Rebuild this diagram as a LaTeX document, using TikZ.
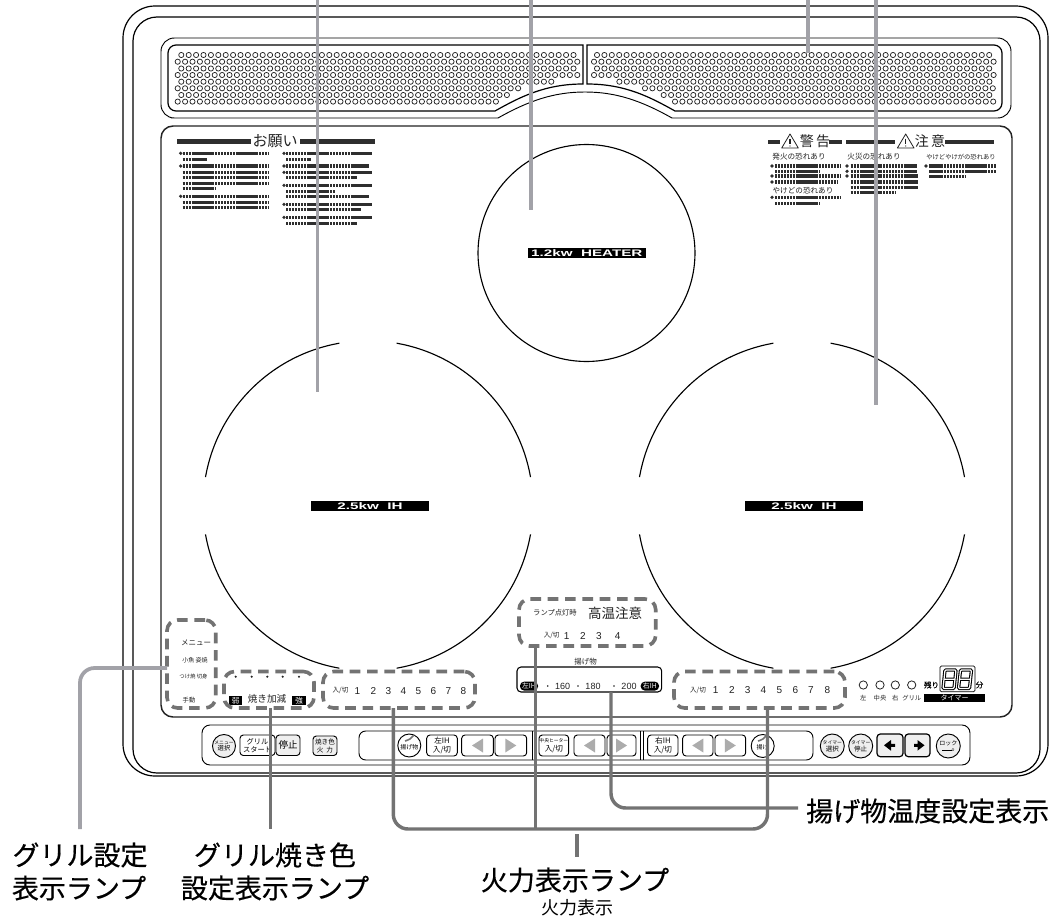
\documentclass[tikz,border=0pt]{standalone}
\usepackage{fontspec}
\setmainfont{Noto Sans CJK JP}
\newfontfamily\lat{Liberation Sans}
\newfontfamily\wide[FakeStretch=1.6]{Liberation Sans}
\newfontfamily\jpb[FakeBold=0.45]{Noto Sans CJK JP}
\usetikzlibrary{fit,calc}
\newcommand\fpx[1]{\fontsize{\the\dimexpr#1pt*3/4\relax}{\the\dimexpr#1pt*17/20\relax}\selectfont}
\definecolor{lead}{HTML}{A2A2A8}
\definecolor{leadd}{HTML}{737373}
\definecolor{ink}{HTML}{222222}
\definecolor{rowc}{HTML}{2E2E2E}
\definecolor{btnf}{HTML}{EFEFEF}
\tikzset{
  x=0.75pt,y=-0.75pt,
  outline/.style={draw=black,line width=0.9pt},
  thinl/.style={draw=black,line width=0.7pt},
  hole/.style={draw=ink,line width=0.55pt},
  dashbox/.style={draw=leadd,line width=2.7pt,dash pattern=on 8pt off 5pt,rounded corners=8pt,inner sep=0pt},
  leader/.style={draw=lead,line width=2.8pt},
  leaderd/.style={draw=leadd,line width=2.6pt},
  txt/.style={inner sep=0pt,align=center,text=ink},
  btnbox/.style={draw=black,line width=0.7pt,rounded corners=2.5pt,inner sep=0pt,fill=white},
  btnfill/.style={btnbox,fill=btnf},
  round/.style={draw=black,line width=0.7pt},
  txtrow/.style={draw=rowc,line width=2.4pt,dash pattern=on 1.8pt off 0.4pt},
  bar/.style={fill=rowc,draw=none},
  tag/.style={fill=black,inner sep=0pt},
  big/.style={inner sep=0pt,align=center,text=black,font=\jpb\fpx{27}},
}
\newcommand\rw[3]{\draw[txtrow] (#1,#3) -- (#2,#3);}
\newcommand\bu[2]{\fill[rowc] (#1,#2) circle[radius=1.8];}
\newcommand\pbtn[8]{\node[#8,fit={(#2,#3)(#4,#5)}] (#1) {};\node[txt,font=\fpx{#7},text=black] (#1t) at (#1.center) {#6};}
\newcommand\tri[3]{\pgfmathsetmacro\cx{#1}\fill[#3] (\cx-#2*5.5,738.5) -- (\cx+#2*5.5,745.5) -- (\cx-#2*5.5,752.5) -- cycle;}
\newcommand\rnd[6]{\node[round,circle,inner sep=0pt,minimum size=#4*0.75pt*2,fill=#5] (#1) at (#2,#3) {};\node[txt,font=\fpx{4.8},text=black] (#1t) at (#2,#3) {#6};}
\newcommand\warn[2]{\draw[line width=0.6pt,draw=ink,line join=round] (#1,#2-7) -- (#1+8.3,#2+7) -- (#1-8.3,#2+7) -- cycle;\draw[line width=0.8pt,draw=ink] (#1,#2-2.5) -- (#1,#2+3.2);\fill[ink] (#1,#2+5) circle[radius=0.7];}
\newcommand\segpath[2]{\draw[#2,rounded corners=0.8pt] (#1+2.5,670) -- (#1+13.5,670) -- (#1+11.5,688.5) -- (#1+0.5,688.5) -- cycle (#1+1.5,679.3) -- (#1+12.5,679.3);}
\newcommand\seg[1]{\segpath{#1}{line width=2.5pt,black}\segpath{#1}{line width=0.9pt,white}}
\begin{document}
\begin{tikzpicture}
\useasboundingbox (0,0) rectangle (1054,921);
\fill[white] (0,0) rectangle (1054,921);

% body
\draw[outline,rounded corners=24pt] (123,6) rectangle (1048,776);
\draw[outline,rounded corners=18pt] (133,17) rectangle (1040,773);
\draw[draw=ink,line width=1.1pt,rounded corners=9pt] (161,126) rectangle (1012,717);

% vents
\draw[thinl] (498,118) -- (171,118) [rounded corners=10pt] -- (161,118) -- (161,38) -- (1011,38) -- (1011,118) [sharp corners] -- (672,118)
   .. controls (640,100) and (615,92) .. (585,92) .. controls (555,92) and (530,100) .. (498,118);
\draw[thinl,line width=0.9pt] (583,45) [rounded corners=6pt] -- (168,45) -- (168,111) [sharp corners] -- (495,111)
   .. controls (520,97) and (545,84) .. (583,84) -- cycle;
\draw[thinl,line width=0.9pt] (587,45) [rounded corners=6pt] -- (1002,45) -- (1002,111) [sharp corners] -- (675,111)
   .. controls (650,97) and (625,84) .. (587,84) -- cycle;
\foreach \s/\e/\y in {181.3/574.5/55,177.7/578/61.7,181.3/574.5/68.5,177.7/578/75,181.3/552/81.7,177.7/523/88.3,181.3/509/95,177.7/497.5/101.6,
   597/992.5/55,594/996/61.7,597/992.5/68.5,594/996/75,619.4/992.5/81.7,645/996/88.3,663.7/992.5/95,675/996/101.6}{
  \pgfmathtruncatemacro\n{floor((\e-\s)/7.4)}
  \draw[hole] foreach \i in {0,...,\n} {(\s+\i*7.4,\y) circle[radius=2.6]};
}

% cooking zones
\foreach \a in {10,100,190,280}{
  \draw[line width=0.85pt] ([shift={(\a:123.75pt)}]368,505.7) arc[start angle=\a,end angle=\a+70,radius=123.75pt];
  \draw[line width=0.85pt] ([shift={(\a:123.75pt)}]802,505.7) arc[start angle=\a,end angle=\a+70,radius=123.75pt];
}
\draw[line width=0.85pt] (586.5,253) circle[radius=108.5];
\node[tag,fit={(528,248)(645.7,258)}] (heaterbar) {};
\node[inner sep=0pt,text=white,font=\wide\bfseries\fpx{9.5}] (heater) at (heaterbar.center) {1.2kw\ \ HEATER};
\node[tag,fit={(311,501)(429,511)}] (ihbarl) {};
\node[inner sep=0pt,text=white,font=\wide\bfseries\fpx{9.5}] (ihl) at (ihbarl.center) {2.5kw\ \ IH};
\node[tag,fit={(745,501)(863,511)}] (ihbarr) {};
\node[inner sep=0pt,text=white,font=\wide\bfseries\fpx{9.5}] (ihr) at (ihbarr.center) {2.5kw\ \ IH};

% heading: onegai
\fill[bar] (177,139) rectangle (250.7,143.7);
\fill[bar] (300,139) rectangle (375,143.7);
\node[txt,font=\fpx{15}] (onegai) at (275,141) {お願い};
\foreach \y/\e in {153.3/269,159.3/207,166/269,172.3/269,177.7/269,183.3/269,188.3/216,196.3/269,202.3/269,207.3/269}{\rw{182.7}{\e}{\y}}
\foreach \y in {153.3,166,196.3}{\bu{180.7}{\y}}
\foreach \y/\e in {153.3/372,159.3/310.7,166/369,172.3/372,177.7/356.7,185.3/372,191.3/335.7,196.3/369,204.3/372,209.3/360.7,217.3/372,223.3/356.7}{\rw{286}{\e}{\y}}
\foreach \y in {153.3,166,172.3,185.3,204.3,217.3}{\bu{284}{\y}}

% warnings
\fill[bar] (767.7,139.5) rectangle (780,143.5);
\warn{790}{141}
\node[txt,font=\fpx{14}] (keikoku) at (815,141) {警\,告};
\fill[bar] (829,139.5) rectangle (841.7,143.5);
\fill[bar] (846,139.5) rectangle (895,143.5);
\warn{905.7}{141}
\node[txt,font=\fpx{14}] (chui) at (930,141) {注\,意};
\fill[bar] (945,139.5) rectangle (994,143.5);
\node[txt,font=\fpx{7.6}] (w1) at (799,157) {発火の恐れあり};
\node[txt,font=\fpx{7.6}] (w2) at (874,157) {火災の恐れあり};
\node[txt,font=\fpx{6.3}] (w3) at (961,157) {やけどやけがの恐れあり};
\node[txt,font=\fpx{7.6}] (w4) at (803,191) {やけどの恐れあり};
\foreach \y/\e in {166/840,171.3/820,176/840,182/836.7,197.3/840,203.3/820}{\rw{775}{\e}{\y}}
\foreach \y in {166,176,182,197.3}{\bu{772}{\y}}
\foreach \y/\e in {166/916.7,171.3/916.7,176/918,182/918,187.3/918,192.7/895.7}{\rw{850.7}{\e}{\y}}
\foreach \y in {166,171.3,176}{\bu{847}{\y}}
\foreach \y/\e in {166/996,171.3/996,176.7/966}{\rw{929.3}{\e}{\y}}
\bu{926}{166}

% menu texts
\node[txt,font=\fpx{7.5},anchor=east] (menu) at (211.5,642.7) {メニュー};
\node[txt,font=\fpx{6}] (m1) at (195,660) {小魚 姿焼};
\node[txt,font=\fpx{5.4}] (m2) at (193.5,676.7) {つけ焼 切身};
\node[txt,font=\fpx{6.3}] (m3) at (189,700) {手動};
% browning
\foreach \x in {235.7,251.7,267.3,282.7,299}{\fill[ink] (\x,676.7) circle[radius=1.2];}
\node[tag,fit={(229,695.7)(242,705)}] (weakb) {};
\node[inner sep=0pt,text=white,font=\fpx{7.5}] (weak) at (weakb.center) {弱};
\node[tag,fit={(292,695.7)(306,705)}] (strongb) {};
\node[inner sep=0pt,text=white,font=\fpx{7.5}] (strong) at (strongb.center) {強};
\node[txt,font=\fpx{9.6}] (yaki) at (267,699) {焼き加減};
% power left
\node[txt,font=\fpx{6.6}] (lsw) at (340.5,690.7) {入/切};
\foreach \x [count=\k] in {357.3,373.3,388.3,403.3,418.3,433.3,448.3,463.3}{\node[txt,font=\lat\fpx{10}] (ln\k) at (\x,690.7) {\k};}
% power centre
\node[txt,font=\fpx{7.3}] (lamp) at (555,613) {ランプ点灯時};
\node[txt,font=\fpx{13.5}] (hot) at (615,613) {高温注意};
\node[txt,font=\fpx{6.6}] (csw) at (551.7,635.7) {入/切};
\foreach \x [count=\k] in {566.7,583,599,617.7}{\node[txt,font=\lat\fpx{10}] (cn\k) at (\x,635.7) {\k};}
% power right
\node[txt,font=\fpx{6.6}] (rsw) at (698,690.5) {入/切};
\foreach \x [count=\k] in {715.7,732,747.7,763.3,779.3,795.3,811,827.3}{\node[txt,font=\lat\fpx{10}] (rn\k) at (\x,690.5) {\k};}
% fry box
\node[txt,font=\fpx{7.5}] (agelabel) at (585.7,661.7) {揚げ物};
\node[draw=black,line width=0.8pt,rounded corners=3pt,inner sep=0pt,fit={(517,667)(661.7,692)}] (agebox) {};
\node[tag,rounded corners=3pt,fit={(520,681.7)(538,690.5)}] (pl) {};
\node[inner sep=0pt,text=white,font=\fpx{6.8}] (plt) at (pl.center) {左IH};
\node[tag,rounded corners=3pt,fit={(640.7,681.7)(659,690.5)}] (pr) {};
\node[inner sep=0pt,text=white,font=\fpx{6.8}] (prt) at (pr.center) {右IH};
\foreach \x in {547.7,578,614}{\fill[ink] (\x,686) circle[radius=0.9];}
\node[txt,font=\lat\fpx{9}] (t160) at (562.7,686) {160};
\node[txt,font=\lat\fpx{9}] (t180) at (593,686) {180};
\node[txt,font=\lat\fpx{9}] (t200) at (629,686) {200};
% dashed boxes
\node[dashbox,fit={(167,620)(215.7,708)}] (boxA) {};
\node[dashbox,fit={(224,671.5)(314,708)}] (boxB) {};
\node[dashbox,fit={(323,671.5)(475,708)}] (boxC) {};
\node[dashbox,fit={(519,599)(655.7,646)}] (boxD) {};
\node[dashbox,fit={(674,671.5)(845,708)}] (boxE) {};

% timer
\foreach \x/\t [count=\k] in {863.3/左,880/中央,895.3/右,911.7/グリル}{
  \node[draw=ink,line width=0.6pt,circle,inner sep=0pt,minimum size=6.2pt] (lp\k) at (\x,685) {};
  \node[txt,font=\fpx{6.3}] (lpt\k) at (\x,698.5) {\t};
}
\node[txt,font=\jpb\fpx{7.5},text=black] (nokori) at (931.5,685) {残り};
\draw[line width=0.6pt,rounded corners=1pt] (940,666) rectangle (975,691.7);
\seg{942.5}\seg{958}
\node[txt,font=\jpb\fpx{7.5},text=black] (fun) at (979.5,685) {分};
\node[tag,fit={(924,694)(985,701.7)}] (timerb) {};
\node[inner sep=0pt,text=white,font=\fpx{7}] (timert) at (timerb.center) {タイマー};

% control strip
\draw[thinl,rounded corners=6pt] (202,725) rectangle (970,765);
\draw[thinl,rounded corners=5pt] (359,731) rectangle (813,760);
\draw[line width=0.5pt] (532,731) -- (532,760) (534.5,731) -- (534.5,760) (640.5,731) -- (640.5,760) (643,731) -- (643,760);
\rnd{bmenu}{224}{746}{11.5}{btnf}{メニュー\\{\fpx{6.3}選択}}
\pbtn{bgrill}{240}{735}{275}{755.5}{グリル\\スタート}{7.2}{btnbox}
\pbtn{bstop}{276}{735}{300}{755.5}{停止}{9.5}{btnfill}
\pbtn{bcolor}{313}{736}{337}{755.5}{焼き色\\火\ \ 力}{6.6}{btnfill}
\rnd{bfryl}{409.3}{745.5}{11.5}{white}{\\[2pt]{\fpx{6}揚げ物}}
\draw[line width=1.2pt,draw=leadd] (405,741) .. controls (409,740) and (412,738) .. (414,735);
\pbtn{bleft}{426.7}{735}{457.3}{756}{左IH\\入/切}{7.6}{btnbox}
\node[btnbox,fit={(461.7,735)(493.3,756)}] (l1) {};\tri{477.5}{-1}{gray!65}
\node[btnbox,fit={(495,735)(526.7,756)}] (l2) {};\tri{510.8}{1}{gray!65}
\pbtn{bcent}{539}{735}{568.7}{756}{{\fpx{4.8}中央ヒーター}\\入/切}{7.6}{btnbox}
\node[btnbox,fit={(574,735)(605,756)}] (c1) {};\tri{589.5}{-1}{gray!65}
\node[btnbox,fit={(607,735)(636,756)}] (c2) {};\tri{621.5}{1}{gray!65}
\pbtn{bright}{647.7}{735}{678}{756}{右IH\\入/切}{7.6}{btnbox}
\node[btnbox,fit={(682.7,735)(713,756)}] (r1) {};\tri{697.8}{-1}{gray!65}
\node[btnbox,fit={(715,735)(745.7,756)}] (r2) {};\tri{730.3}{1}{gray!65}
\rnd{bfryr}{762.7}{746}{11.5}{white}{\\[2pt]{\fpx{6}揚げ}}
\draw[line width=1.2pt,draw=leadd] (758,741) .. controls (762,740) and (765,738) .. (767,735);
\rnd{btsel}{832.3}{746}{12}{btnf}{タイマー\\{\fpx{6.5}選択}}
\rnd{btstop}{860.7}{746}{12}{btnf}{タイマー\\{\fpx{6.5}停止}}
\node[btnfill,line width=0.9pt,fit={(877,734)(903,756.7)}] (tl) {};
\fill[black] (884,745.3) -- (891,740) -- (891,743.8) -- (895,743.8) -- (895,746.8) -- (891,746.8) -- (891,750.7) -- cycle;
\node[btnfill,line width=0.9pt,fit={(905,734)(930,756.7)}] (tr) {};
\fill[black] (924.5,745.3) -- (917.5,740) -- (917.5,743.8) -- (914,743.8) -- (914,746.8) -- (917.5,746.8) -- (917.5,750.7) -- cycle;
\rnd{block}{948.3}{746}{12}{btnf}{{\fpx{6}ロック}\\ \rule[0.6pt]{7pt}{0.35pt}o}

% leaders
\coordinate (top1) at (317.5,0); \coordinate (end1) at (317.5,391.7);
\coordinate (top2) at (531,0);   \coordinate (end2) at (531,210);
\coordinate (top3) at (808,0);   \coordinate (end3) at (808,53);
\coordinate (top4) at (875.7,0); \coordinate (end4) at (875.7,405);
\draw[leader] (top1) -- (end1);
\draw[leader] (top2) -- (end2);
\draw[leader] (top3) -- (end3);
\draw[leader] (top4) -- (end4);

\node[big] (grillA1) at (80,855) {グリル設定};
\node[big] (grillA2) at (79,888) {表示ランプ};
\node[big] (grillB1) at (275,855) {グリル焼き色};
\node[big] (grillB2) at (275,888) {設定表示ランプ};
\node[big,anchor=west] (fryT) at (806,811) {揚げ物温度設定表示};
\node[big] (powT) at (575,880) {火力表示ランプ};
\node[inner sep=0pt,text=black,font=\fpx{18}] (powS) at (577,908) {火力表示};

\coordinate (aS) at (167,668);
\coordinate (aE) at (80,829);
\draw[leader,rounded corners=11pt] (aS) -| (aE);
\coordinate (bS) at (270.7,708); \coordinate (bE) at (270.7,829);
\draw[leaderd] (bS) -- (bE);
\coordinate (cS) at (393.3,708); \coordinate (eS) at (767.5,708);
\coordinate (dS) at (535.7,646); \coordinate (dE) at (535.7,829);
\draw[leaderd,rounded corners=11pt] (cS) -- (393.3,829) -- (767.5,829) -- (eS);
\draw[leaderd] (dS) -- (dE);
\coordinate (stubA) at (577,834); \coordinate (stubB) at (577,857);
\draw[leaderd] (stubA) -- (stubB);
\coordinate (fS) at (611,692); \coordinate (fE) at (798,808);
\draw[leaderd,rounded corners=11pt] (fS) |- (fE);
\end{tikzpicture}
\end{document}
